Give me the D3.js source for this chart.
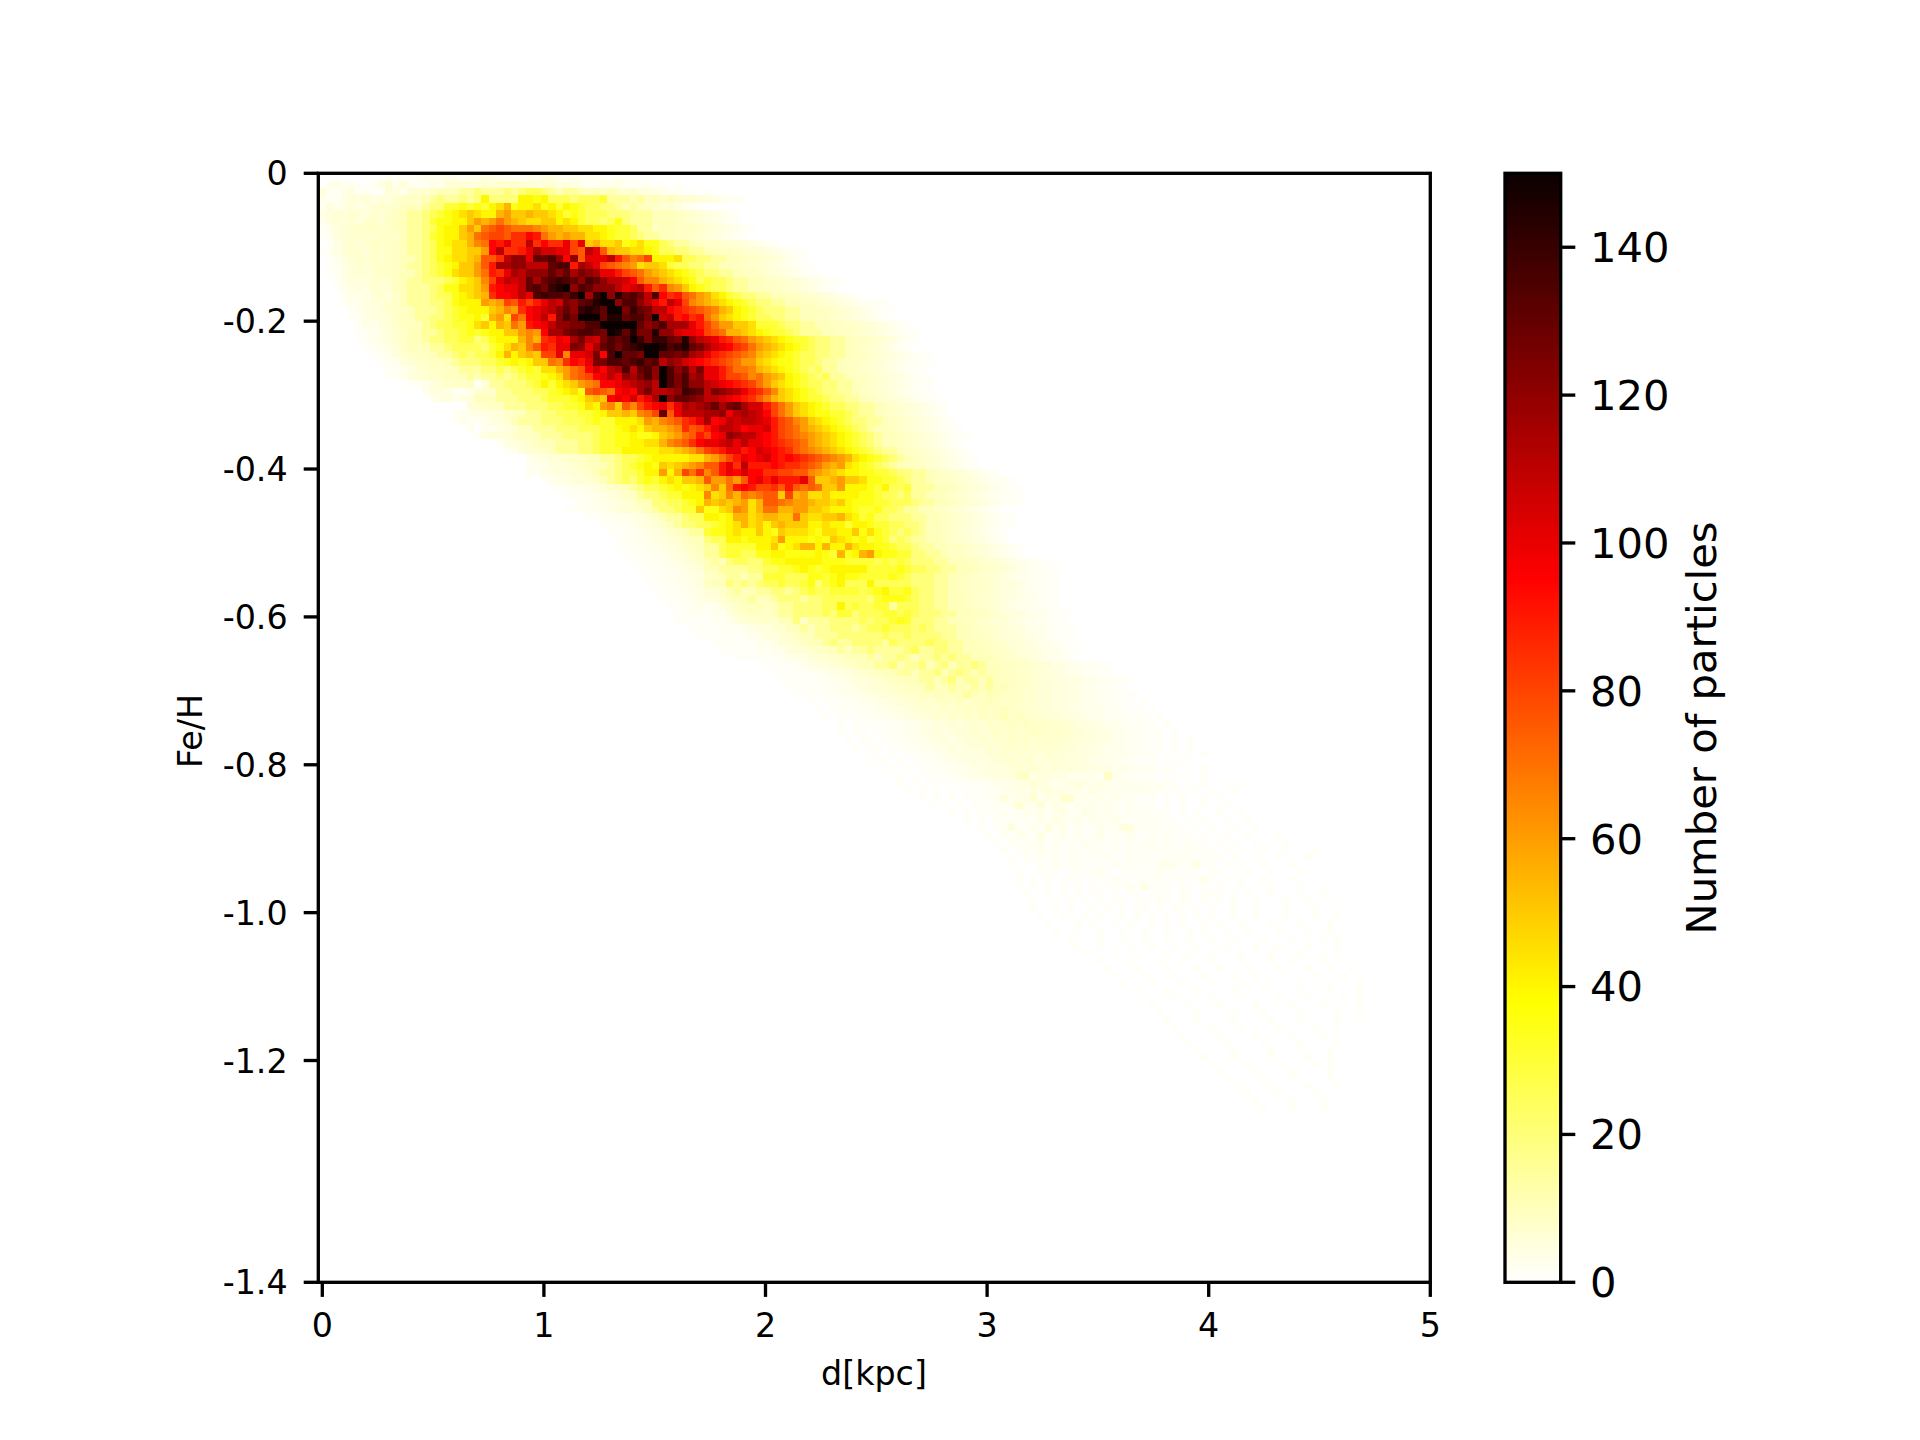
<!DOCTYPE html>
<html><head><meta charset="utf-8">
<style>html,body{margin:0;padding:0;background:#fff}svg{display:block}text{font-family:"DejaVu Sans";fill:#000}</style>
<script src="https://cdn.jsdelivr.net/npm/d3@7"></script>
</head><body><svg id="c" width="1920" height="1440"></svg>
<script>
const xTickValues=[0,1,2,3,4,5];
const yTickRows=[0,20,40,60,80,100,120,150];
const yTickLabels=["0","-0.2","-0.4","-0.6","-0.8","-1.0","-1.2","-1.4"];
const barTicks=[0,20,40,60,80,100,120,140];
// one symbol per heat-map cell: digits are counts 0-9, then letters climb in steps of 5
const symbols="0123456789abcdefghijklmnopqrstuvwxyzABC";
const symbolCounts=[0,1,2,3,4,5,6,7,8,9,10,15,20,25,30,35,40,45,50,55,60,65,70,75,80,85,90,95,100,105,110,115,120,125,130,135,140,145,150];
// each row reads "first column|cell symbols" (spaces only group the columns); rows run from the top of the image
const cellRows=[
"6|1012121232343233543221334432321211211010",
"0|0342310246353224367655767787656745432233421221101",
"0|5214522126 536778aaab bcbbbcbcdd cbabba9a8a 7685543221 101",
"0|3224656455 7898abcbbc bcgccccggf gdddcdddeb bbab9a8a86 75543221",
"0|2534645686 89a9bcceef efeghjfggh fgegfeddcc baba987653 21",
"0|4565765768 9abbcdefgh ihggjkiiji ihgefedddc ccbbbaaa98 7654321",
"0|3566757868 9abbceffgg ikjkmkjihh iighgeddcd fcbbbaaa98 7654321",
"0|1356788888 9abbcdfggi kimnonmmml kjjiihhggf eedbb9aa99 987654321",
"0|1256777788 8abbcefggi jmnoonpprq mkjkjjhhgf eedcbbaa99 87654321",
"0|0146767888 9abbcdfghh jlmrqsppup rppsosijhh ifghffdcbb a98877654321",
"0|1246776878 9abbcdffhh iikruppqsv ttssonusnj iihhgfddcc bbaa998776 5432110",
"0|0135676878 9aabcdfghh ijnnpuwwsy yzwrwnsssu qnlmoggghd dccbbaa988 765321",
"0|0124676788 9abbcdefgi iknqvvwwuu uyzzqvuson mlkhiihedd ccbbaa9887 6543211",
"0|0124666788 9aabcdefhi ikmqpsvuww wywyvxwvss qonmkjihgf edccbba998 76543211",
"0|0014555777 9abbcccdeg hilosutuyv yzAzywzywu utrnlljihg fdeddcbbaa 98876543211",
"0|0013454766 9abbbcdffh hikqrssuyz xABCwzywww ustuqnplki gfeddcbbaa 9987654321",
"0|0002434675 8abbbcddfg hijprrsusz AzzyACvACw Byzxuzrpqn mkjhgedccb baa9987654 321",
"0|0002334567 8abbbccdfg ggkjkonqoq sutxwyzBCC wzzwusquso lkjihgfedc cbbaa99876 5432211",
"0|0000134567 89abbbcdef gggijlkprs tuwywABAyC CxAyxuurqp onmljigfed cccbbaa998 76543211",
"0|0000124556 89abbccdef fgejkhomrs uqwzxCCCyB ByzzxCtuqr pqmkihgfed dccbbaa998 7654321",
"0|0000024356 899abcddee fhigjimkqr suwwxxzzCC CCCywxzvvv sqomkkiihe eedccbbaa9 9887654321",
"0|0000012345 78aabbcdde fefggiiklk rvvxyzzyxC ByBxxBwwts sronmjjihg feedcbbbaa 99876543211",
"0|0000012345 78aabccdde ecdfgggjlj pqsrvxutxz yzCAxAAyxB wutsqpnmkj ihgfeedccb ba998765321",
"0|0000001234 68a9abbcdd ddcefhjiln qpssxwsvyz xzABCCBzAB yxvtsrpomk jihgfedccb ba98765321",
"0|0000000123 57899abbcd cddegjgiji ooslsstxrz CyyxCCyyxy vusqponmlj ihgfeddccb ba99876543 2110",
"0|0000000012 3568899abc ccddefgfgi imlprqsxxz zyzAyzuwvt srqponmkki hgffeddcbb a998765432 2110",
"0|0000000001 23467889ab bbccdcdefe hhjkmnrtru vzuyzwCzwy uxssqommlj ihgfedcdbb a998765432 11",
"0|0000000001 235678899a babbcbcdee fghkmnorsu swvxzwCzxz vwssqoonlm kjigfedcdb ba99876543 211",
"0|0000000000 0012357888 925bbcccde geghiklmrr stuvwuCzxz wwutsrqpom kihgfeddcc bba9876543 211",
"0|0000000000 0000355422 4688bbcccd defghfnonm rsrvxuuvwA zyuxwvusqp nlihgfedcc bba9876543 211",
"0|0000000000 0000034534 5aa9bbbccc deeefgijir srtqsvCwyy xwuutsrqpn ljihgfeedc cbba987654 3211",
"0|0000000000 0000000000 67899bbbcc cddeefhgkl inloqrspsv uvwyvxyvtt qomkihgfed dccbba9876 54321",
"0|0000000000 0000000023 3445689abb ccdddeefgi ijilmoynsu uuvvwsuvut romkihgffe edcbba9876 54321",
"0|0000000000 0000000023 223557abbb cccdddefee ggghkjlmnp qsvrsutuut sqonlkihgf edccbba987 654321",
"0|0000000000 0000000000 303245799b bbcccdddee fghgijjklp noqsuutrss tqonmkjihg fedcbaa987 6543211",
"0|0000000000 0000000000 024556899a bbbccccdee ffgffgijkm nqorswvuus rqonmlkjih gfedcbaa98 76543211",
"0|0000000000 0000000000 0000245689 aabbbccdee ffgghhjlmn prsstususs rqponmkjih gfedcbaa98 7654321",
"0|0000000000 0000000000 0000023567 8abbbccdee eggggghhij kmopqssqrt srqpnmlkji hgfedcbba9 87654321",
"28|34 5667 88aabb cddefggggg hhjkmoqsrs trqrqponml kjhgfedcba 987654321",
"28|23 3556 789aab cdefgfihij klnnqspuqq qrqpponmkj khgfedcba9 987654321",
"28|32 4455 678abb cddeggkgjo mplnqsrtrr ppoonnlkji hggffeedcc bba9876543 21",
"30|23445668ab cdcefeghgi ijnkkmknrs qsqqqsniij kiihffeedc bba9887654 3221",
"31|122334568 9abcddefgf ghilimqrqo opnqnmnmii kgggfegdde bbbaa98765 43211",
"33|1223345 689bccdeeg gglhiljmlm nniojkhhig gggffeddcd bbaa987654 32211",
"35|22334 568aaccddef gjijijkhjn nmlkkjiihi gfffeedddc bbaa987654 3221",
"33|1122334 5678abccde eiffhilkhj mmjjkkiihg ggfeefddcb baa9876543 21",
"36|1122 334568abbc ddggfgjjhi jjiimihhii jhgefddccc bbaa987654 3211",
"38|11 22345 68abccdd efghjhigij iiigghggeg gfeeddccba a987654321 1",
"39|1 1223456 89abbeffgh ggigfihhhg fhhggifhfe dcdcbaa987 654321",
"40|1223345679 aacddggfgg ghkgggfgfi hgfgefecdc bbaa987654 321",
"40|1122334568 9abbdeeeeg gifghjjgjg gjhggffedd cbbaa99876 54321",
"41|112233 4568 9bbdeeddff ggffffgfej fgjkgffeec cbba998765 4321",
"40|0011223345 68abacddcc effgggggff feeeededed cccbbaa998 765433211",
"40|0001122334 56aabbbbcc ddeefgfefg ggggeeeefe ddccbbaa98 876543221 1",
"40|0000112233 4589abbabb eeedddffef gffeeeefed cccbbaa987 7654332211",
"40|0000112233 459aacbcbc ddeddefcef gdddgddddd cccbba9988 7655432211",
"40|0000011223 34668abaab bccbcdedde eeedefgeef dccbbaa988 76554331 11",
"40|0000001122 34557 9aaba abcccbccdd ddddcefffe dccbbaa987 7654433211",
"40|0000000112 23235 68aaa 9abbccccdd gdeddeebdd dccbbaa988 7654332211",
"48|11 22132 5789 9 8abbccccdc eecdddeede dcccbbaa99 87655433211 1",
"48|11 11122 35677 8 7aac9bbbc cccdcddefe cccbbaa998 766543322 11",
"50|1111222 345 57 79ababbc ccbcddeddd cdcbbbaa98 8765543321 11",
"50|0111111 233 55 679aabbb ccccccdccd ccccbbaa99 876654432 211",
"50|0001111 113 34 66 89aabc bbccccbdcc ccdccbbaa9 987665433 2 11",
"50|0000111 112 23 35 66889a babbcbbbbc dbbccbbaaa 9887655 4332 11",
"50|0000001 111 11 23 44 6678 8aaababbcb abbcbcbbaa a9887654 33 21",
"60|1111234556 789aabbcab bcabcabbcb aa99887664 4332211",
"60|0111112234 456789aabb abbcabcbab aa9987765 54332211",
"60|0011111223 3455678 99a abbabcabba ba99887665 5443322111",
"60|0001111122 3345667889 9abaabaaba baa9887665 54433221 1",
"60|0000111112 2334456678 899a9aaba9 aa9887766 5544332211 11",
"60|0000001011 1223344566 7878989899 a989877665 5443322111 01",
"60|0000000101 1112233445 6676878989 89a8877665 5443332211 101",
"68|10 1111223344 5567687879 89a8987766 5544332221 1101",
"70|1011111223 3445565676 8789898887 7655443322 11101",
"70|1011011223 3445456676 7878789878 7765544332 2111 01",
"71|101101122 3344545667 6878787787 7665544332 2111 0101",
"72|10110112 2334454566 7678786767 6655443332 2111 0101",
"73|1010101 1223344545 6676767676 6655443332 2111 010101",
"74|101010 1122334454 5667676566 6554433322 111010 1",
"75|10101 0111223344 5456767656 5655444333 2221110101",
"76|1010 1011122334 4555884554 4333329322 1110101001",
"78|1010101011 1223344565 4334543432 3232221101 0100101",
"79|1010101011 1223343545 4434243332 3232211101 010010",
"81|1010101112 2533473437 7232323221 1101010010 1",
"82|1010101112 2373362432 3232321211 1010100100 1",
"85|1010111212 3232342243 2321212111 0101001001",
"87|1010112121 3243231322 3212121110 1010010 01",
"89|1012521315 2312213225 5121211101 01001001",
"90|1021321412 3121231213 1121211101 0010010001",
"91|1021123121 2131212121 2212112110 1010010001 00",
"92|1012131212 1121121212 1211121110 1010010010 001",
"93|1011212121 1112112111 1212111110 1001001000 1",
"93|1010112112 1111211211 3331241101 0100100 01",
"94|1001110111 1210111112 1111101101 0100100010",
"94|1010101110 1111101111 1110131010 1001000 10",
"94|1010101010 1011131411 1011010100 10001000 1",
"95|1001010101 1010110111 0110111010 1001000100 100",
"96|1001010101 0110110110 1101010100 1000100100 01",
"96|1001010010 1010110101 1010100100 1000100010 0",
"97|1001001010 0101010101 0101001001 0001000100 1",
"98|1000101001 0100101010 0101001000 100010001",
"99|1001001001 0010010010 1001001000 10001001",
"101|1000100100 1001001001 0010001000 1000101",
"102|1001000100 1001001000 1000100100 010001",
"103|1000100100 0100100100 0100010001 00101",
"105|1000100010 0100010001 0001001000 100",
"106|1000100010 0010010001 0001000100 1001",
"107|1000100010 0010001001 0001000100 0100",
"108|1000100010 0010001000 1000100010 001",
"110|1000100010 0001000100 0010001000 1",
"111|1000100001 0001000010 0010000101",
"112|1000010001 0000100001 000100001",
"113|1000010000 1000100001 00001001",
"114|1000100001 0000100010 0001",
"115|1000010001 0000100001 001",
"116|1000010000 1000010001 00",
"117|1000010000 1000010000 1",
"118|1000010000 100010001",
"119|1000100001 00001001",
"120|1000010000 1000101",
"121|1000010000 100001",
"122|1000010001 00001",
"124|1000100001 0001",
"125|1000100001",
"126|1000010001",
"127|100010001"
];
const W=1920,H=1440,L=318.3,R=1430.3,T=173.3,B=1282.3,BL=1505,BR=1560.7,LW=3.33,TS=14.6,TP=14.6,FS=33.3,CFS=41.7;
const cols=d3.range(150),rows=d3.range(150);
const valueOf=new Map(symbols.split("").map((s,i)=>[s,symbolCounts[i]]));
const cells=[];
cellRows.forEach((line,r)=>{const [st,raw]=line.split("|");
  raw.replace(/\s/g,"").split("").forEach((ch,k)=>{const v=valueOf.get(ch),c=+st+k;if(v&&c<150)cells.push({r,c,v});});});
const color=d3.scaleLinear().domain([0,38.1,95.25,150]).range(["#ffffff","#ffff00","#ff0000","#0b0000"]).clamp(true);
const xBand=d3.scaleBand().domain(cols).range([L,R]);
const yBand=d3.scaleBand().domain(rows).range([T,B]);
const xAxisScale=d3.scaleLinear().domain([0,5]).range([L+xBand.bandwidth()/2+.3,R]);
const yAxisScale=d3.scaleLinear().domain([0,150]).range([T,B]);
const barScale=d3.scaleLinear().domain([0,150]).range([B,T]);
const svg=d3.select("#c");
svg.append("g").selectAll("rect").data(cells).join("rect")
 .attr("x",d=>xBand(d.c)).attr("y",d=>yBand(d.r)).attr("width",xBand.bandwidth()).attr("height",yBand.bandwidth())
 .attr("fill",d=>color(d.v)).attr("shape-rendering","crispEdges");
function style(g,fs,shift){g.selectAll("text").attr("font-size",fs).attr("font-family","DejaVu Sans").attr("fill","#000").attr("transform",`translate(0,${shift})`);
 g.selectAll("line").attr("stroke","#000").attr("stroke-width",LW);g.select(".domain").remove();}
svg.append("g").attr("transform",`translate(0,${B})`).call(d3.axisBottom(xAxisScale).tickValues(xTickValues).tickFormat(d3.format("d")).tickSize(TS).tickPadding(TP).offset(0)).call(style,FS,2);
svg.append("g").attr("transform",`translate(${L},0)`).call(d3.axisLeft(yAxisScale).tickValues(yTickRows).tickFormat((d,i)=>yTickLabels[i]).tickSize(TS).tickPadding(TP+1.5).offset(0)).call(style,FS,1.5);
svg.append("rect").attr("x",L).attr("y",T).attr("width",R-L).attr("height",B-T).attr("fill","none").attr("stroke","#000").attr("stroke-width",LW);
const steps=d3.range(0,150,0.5);
svg.append("g").selectAll("rect").data(steps).join("rect").attr("x",BL).attr("width",BR-BL)
 .attr("y",d=>barScale(d+0.5)).attr("height",barScale(0)-barScale(0.5)).attr("fill",d=>color(d+0.25)).attr("shape-rendering","crispEdges");
svg.append("g").attr("transform",`translate(${BR},0)`).call(d3.axisRight(barScale).tickValues(barTicks).tickSize(TS).tickPadding(TP).offset(0)).call(style,CFS,1.5);
svg.append("rect").attr("x",BL).attr("y",T).attr("width",BR-BL).attr("height",B-T).attr("fill","none").attr("stroke","#000").attr("stroke-width",LW);
svg.append("text").attr("x",874).attr("y",1385).attr("text-anchor","middle").attr("font-size",FS).text("d[kpc]");
svg.append("text").attr("transform","translate(202,731) rotate(-90)").attr("text-anchor","middle").attr("font-size",FS).text("Fe/H");
svg.append("text").attr("transform","translate(1716,728) rotate(-90)").attr("text-anchor","middle").attr("font-size",CFS).text("Number of particles");
</script></body></html>
